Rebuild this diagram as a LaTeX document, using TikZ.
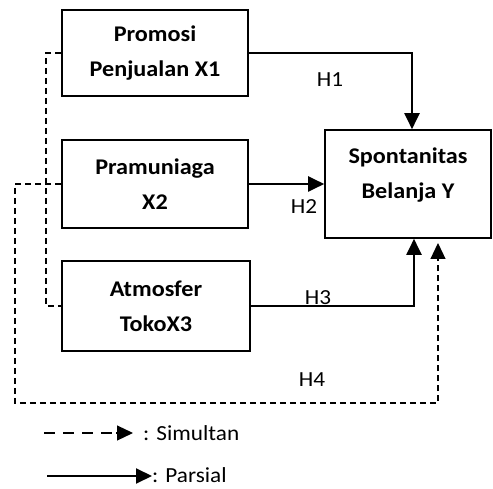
\documentclass[tikz,border=0pt]{standalone}
\usepackage{fontspec}
\setmainfont{Carlito}[FakeStretch=1.08]
\usetikzlibrary{arrows.meta, positioning}
\tikzstyle{varbox} = [rectangle, draw=black, line width=1.6pt, align=center, font=\bfseries\fontsize{22.4}{35}\selectfont, inner sep=0pt]
\tikzstyle{hlabel} = [font=\fontsize{21.5}{24}\selectfont, inner sep=0pt]
\tikzstyle{legtext} = [font=\fontsize{21.5}{26}\selectfont, anchor=west, inner sep=0pt]
\tikzstyle{arrow} = [line width=2pt, -{Triangle[length=16pt,width=15pt]}]
\tikzstyle{simul} = [line width=1.4pt, dash pattern=on 6pt off 4pt]
\tikzstyle{simtip} = [line width=1.2pt, -{Triangle[length=16pt,width=15pt]}]

\begin{document}
\begin{tikzpicture}[x=1pt, y=-1pt]
        \useasboundingbox (0,0) rectangle (493,489);
        \node (x1) [varbox, minimum width=186pt, minimum height=86pt] at (155,53) {Promosi\\Penjualan X1};
        \node (x2) [varbox, minimum width=186pt, minimum height=88pt] at (155,184) {Pramuniaga\\X2};
        \node (x3) [varbox, minimum width=188pt, minimum height=90pt] at (156,306) {Atmosfer\\TokoX3};
        \node (y) [varbox, minimum width=166pt, minimum height=108pt] at (408,184) {};
        \node (ytext) [varbox, draw=none] at (408,175) {Spontanitas\\Belanja Y};

        % parsial
        \draw [arrow] (x1.east) -| ([xshift=4pt]y.north);
        \draw [arrow] (x2.east) -- (y.west);
        \draw [arrow] (x3.east) -| ([xshift=6pt]y.south);
        \node (h1) [hlabel] at (330,80) {H1};
        \node (h2) [hlabel] at (304,207) {H2};
        \node (h3) [hlabel] at (318,298) {H3};

        % simultan
        \coordinate (s1) at (46,53);
        \coordinate (s2) at (46,306);
        \draw [simul] (x1.west) -- (s1) -- (s2) -- (x3.west);
        \coordinate (a1) at (15,184);
        \coordinate (a2) at (15,403);
        \coordinate (a3) at (438,403);
        \coordinate (a4) at (438,243);
        \draw [simul] (x2.west) -- (a1) -- (a2) -- (a3) -- ([yshift=-13pt]a4);
        \draw [simtip] ([yshift=-15pt]a4) -- (a4);
        \node (h4) [hlabel] at (312,380) {H4};

        % legend
        \coordinate (l1) at (44,433);
        \coordinate (l2) at (133,433);
        \draw [line width=2pt, dash pattern=on 11pt off 8pt] (l1) -- ([xshift=-20pt]l2);
        \draw [simtip] ([xshift=-17pt]l2) -- (l2);
        \node (simultan) [legtext] at (143,433) {: Simultan};
        \coordinate (l3) at (47,476);
        \coordinate (l4) at (152,476);
        \draw [arrow] (l3) -- (l4);
        \node (parsial) [legtext] at (152,475) {: Parsial};
    \end{tikzpicture}
\end{document}
